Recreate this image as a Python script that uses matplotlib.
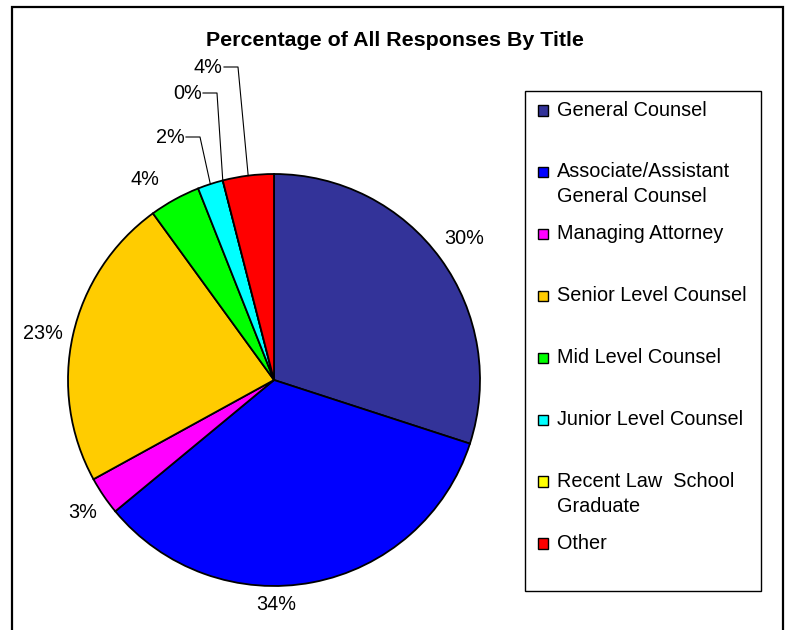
import matplotlib
matplotlib.use("Agg")
import matplotlib.pyplot as plt
from matplotlib.patches import Rectangle
import numpy as np

plt.rcParams['font.family'] = ['Liberation Sans', 'DejaVu Sans']

title = "Percentage of All Responses By Title"
categories = [
    "General Counsel",
    "Associate/Assistant\nGeneral Counsel",
    "Managing Attorney",
    "Senior Level Counsel",
    "Mid Level Counsel",
    "Junior Level Counsel",
    "Recent Law  School\nGraduate",
    "Other",
]
percentages = [30, 34, 3, 23, 4, 2, 0, 4]
colors = ["#333399", "#0000FF", "#FF00FF", "#FFCC00",
          "#00FF00", "#00FFFF", "#FFFF00", "#FF0000"]

W, H = 789, 630
fig = plt.figure(figsize=(W / 100, H / 100), dpi=100)

# Overlay axes in pixel coordinates for frame, title and legend
ov = fig.add_axes([0, 0, 1, 1])
ov.set_xlim(0, W)
ov.set_ylim(H, 0)
ov.axis("off")

ov.add_patch(Rectangle((12, 7), 771, 650, facecolor="white",
                       edgecolor="black", linewidth=1.6, zorder=0))
ov.text(395, 40, title, ha="center", va="center", fontsize=15.4,
        fontweight="bold")

# Legend
ov.add_patch(Rectangle((525, 91), 236, 500, facecolor="white",
                       edgecolor="black", linewidth=1.0, zorder=1))
y0, step = 110.5, 61.9
for i, (lab, col) in enumerate(zip(categories, colors)):
    y = y0 + i * step
    ov.add_patch(Rectangle((538, y - 5.5), 10.5, 10.5, facecolor=col,
                           edgecolor="black", linewidth=1.0, zorder=2))
    ov.text(557, y - 10, lab, ha="left", va="top", fontsize=14.3,
            linespacing=1.38, zorder=2)

# Pie
cx, cy, r = 274, 380, 206
ax = fig.add_axes([(cx - r) / W, (H - cy - r) / H, 2 * r / W, 2 * r / H])
wedges, _ = ax.pie(percentages, colors=colors, startangle=90,
                   counterclock=False, radius=1.0,
                   wedgeprops=dict(edgecolor="black", linewidth=1.3))
ax.set_xlim(-1, 1)
ax.set_ylim(-1, 1)
ax.set_aspect("equal")
ax.axis("off")


def px(x, y):
    return ((x - cx) / r, (cy - y) / r)


# label positions (pixel layout) for the larger slices
label_pos = {0: (464, 238), 1: (276, 605), 2: (83, 513),
             3: (43, 333), 4: (145, 179)}
for i, (x, y) in label_pos.items():
    lx, ly = px(x, y)
    ax.text(lx, ly, f"{percentages[i]}%", ha="center", va="center",
            fontsize=14.3, clip_on=False)

# small slices with leader lines: elbow point in pixel layout
elbows = {5: (200, 137), 6: (217, 93), 7: (238, 67)}
for i, (ex, ey) in elbows.items():
    w = wedges[i]
    mid = np.deg2rad((w.theta1 + w.theta2) / 2)
    tx, ty = np.cos(mid), np.sin(mid)
    e1 = px(ex, ey)
    e0 = px(ex - 14, ey)
    ax.plot([e0[0], e1[0], tx], [e0[1], e1[1], ty], color="black",
            linewidth=0.8, clip_on=False)
    ax.text(e0[0] - 1.5 / r, e0[1], f"{percentages[i]}%", ha="right",
            va="center", fontsize=14.3, clip_on=False)

fig.savefig("out.png", dpi=100)
